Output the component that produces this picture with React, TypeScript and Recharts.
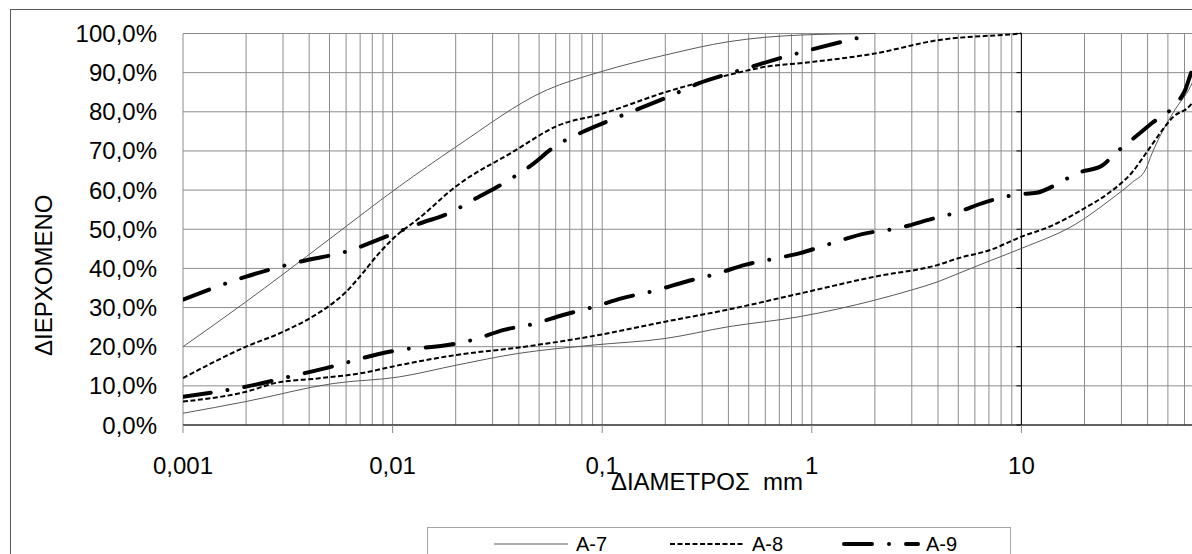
import React from 'react';
import { LineChart, Line, XAxis, YAxis, CartesianGrid, ReferenceLine, Label } from 'recharts';

const FONT = '"Liberation Sans", Arial, Helvetica, sans-serif';

// Grain size distribution curves (percent passing vs. diameter in mm)
const a7FineSize = [0.001, 0.002, 0.003, 0.005, 0.0108, 0.02, 0.054, 0.098, 0.2, 0.4, 0.88, 2];
const a7FinePass = [20, 31.5, 38.5, 47.5, 61, 71, 85.5, 90.2, 94.5, 97.9, 99.6, 100];

const a8FineSize = [0.001, 0.002, 0.003, 0.004, 0.005, 0.006, 0.007, 0.0085, 0.01, 0.0135, 0.02, 0.0376, 0.061, 0.1, 0.2, 0.3, 0.4, 0.6, 0.95, 2, 4, 9, 10];
const a8FinePass = [12, 20, 23.8, 27.2, 30.5, 34, 38, 43.5, 47.5, 53, 60.9, 69.8, 76.4, 79.5, 85, 87.7, 89.4, 91.5, 92.6, 94.9, 98.3, 99.8, 100];

const a9FineSize = [0.001, 0.002, 0.0036, 0.006, 0.0097, 0.0135, 0.0184, 0.025, 0.0337, 0.046, 0.0593, 0.081, 0.11, 0.208, 0.29, 0.4, 0.75, 1.5, 1.9];
const a9FinePass = [32, 37.9, 41.7, 44.3, 48.5, 51.5, 54, 57.9, 61.7, 66.4, 71.1, 74.9, 77.9, 83.9, 87.3, 89.7, 94.1, 98.3, 99.6];

const a7CoarseSize = [0.001, 0.002, 0.0052, 0.0108, 0.0202, 0.04, 0.09, 0.2, 0.4, 0.88, 2, 3, 4, 5, 7.2, 10, 18.4, 26.5, 34, 39, 42, 47, 54, 64, 80];
const a7CoarsePass = [3, 6, 10.6, 12.3, 15.3, 18.3, 20.4, 22.1, 25.1, 27.7, 31.9, 34.5, 36.6, 38.7, 42.1, 45.1, 51.5, 57.5, 62.1, 65.1, 69.4, 74.9, 80.5, 86.4, 100];

const a8CoarseSize = [0.001, 0.002, 0.0028, 0.0044, 0.007, 0.0108, 0.0202, 0.04, 0.09, 0.2, 0.4, 0.88, 2, 4, 5, 7.1, 10, 13.7, 19.9, 26.5, 33.7, 40, 47, 53, 64, 90];
const a8CoarsePass = [6, 8.5, 10.8, 11.9, 13.2, 15.3, 17.9, 19.8, 22.7, 26.4, 29.5, 33.6, 37.9, 40.9, 42.6, 44.7, 48.1, 50.7, 55.3, 59.5, 64.5, 70, 75.3, 78.7, 81.7, 100];

const a9CoarseSize = [0.001, 0.002, 0.0032, 0.0052, 0.0087, 0.0108, 0.017, 0.024, 0.034, 0.047, 0.065, 0.09, 0.125, 0.178, 0.25, 0.35, 0.48, 0.68, 0.88, 1.1, 1.83, 2.55, 3.6, 4.9, 6.8, 9.6, 11.8, 15, 18.4, 24.2, 28, 32.3, 41.7, 55, 60.5, 64, 75];
const a9CoarsePass = [7.2, 9.8, 12.3, 15, 18.2, 19.2, 20.2, 21.7, 24.3, 25.8, 28.1, 30.1, 32.4, 34.3, 36.6, 38.6, 40.9, 42.6, 43.9, 45.5, 49, 50.2, 52.4, 54.3, 57, 58.9, 59.3, 61.7, 64.3, 66.2, 69.4, 72.1, 77, 82.2, 85.6, 89.4, 100];

const seriesNames = ['A-7', 'A-8', 'A-9'];

// Labelled decades (the last decade of the axis carries gridlines only)
const decadeTicks = [0.001, 0.01, 0.1, 1, 10];
const decadeLabels = ['0,001', '0,01', '0,1', '1', '10'];
const minorMultipliers = [1, 2, 3, 4, 5, 6, 7, 8, 9];
const axisMax = 100;
const percentTicks = [0, 10, 20, 30, 40, 50, 60, 70, 80, 90, 100];

const xTitle = 'ΔΙΑΜΕΤΡΟΣ  mm';
const yTitle = 'ΔΙΕΡΧΟΜΕΝΟ';

const gridTicks: number[] = [];
decadeTicks.forEach((d) => {
  minorMultipliers.forEach((m) => gridTicks.push(Number((m * d).toPrecision(3))));
});
gridTicks.push(axisMax);

const toPoints = (sizes: number[], pass: number[]) =>
  sizes.map((s, i) => ({ size: s, pass: pass[i] }));

const GRID = '#8c8c8c';

const styles: Record<string, any> = {
  'A-7': { stroke: '#5a5a5a', strokeWidth: 1 },
  'A-8': { stroke: '#000', strokeWidth: 2, strokeDasharray: '5 2.5' },
  'A-9': { stroke: '#000', strokeWidth: 4, strokeDasharray: '28 17 0.01 17', strokeLinecap: 'round' },
};

const curves = [
  { name: 'A-7', data: toPoints(a7FineSize, a7FinePass) },
  { name: 'A-7', data: toPoints(a7CoarseSize, a7CoarsePass) },
  { name: 'A-8', data: toPoints(a8FineSize, a8FinePass) },
  { name: 'A-8', data: toPoints(a8CoarseSize, a8CoarsePass) },
  { name: 'A-9', data: toPoints(a9FineSize, a9FinePass) },
  { name: 'A-9', data: toPoints(a9CoarseSize, a9CoarsePass) },
];

const XTick = (props: any) => {
  const { x, y, payload } = props;
  const idx = decadeTicks.findIndex((d) => Math.abs(d - payload.value) < d * 1e-6);
  if (idx < 0) return <g />;
  return (
    <g>
      <line x1={x} x2={x} y1={y} y2={y + 8} stroke={GRID} strokeWidth={1} />
      <text x={x} y={y + 49} textAnchor="middle" fontSize={24} fontFamily={FONT} fill="#000">
        {decadeLabels[idx]}
      </text>
    </g>
  );
};

const YTick = (props: any) => {
  const { x, y, payload } = props;
  return (
    <text x={x - 26} y={y + 8.5} textAnchor="end" fontSize={24} fontFamily={FONT} fill="#000">
      {`${payload.value.toFixed(1).replace('.', ',')}%`}
    </text>
  );
};

// Vertical axis line crossing at 10 mm, with short outside tick marks
const CrossAxis = (props: any) => {
  const { x1, y1, x2, y2 } = props;
  const marks = percentTicks.map((p, i) => {
    const yy = y1 + ((y2 - y1) * i) / (percentTicks.length - 1);
    return <line key={p} x1={x1 - 5} x2={x1} y1={yy} y2={yy} stroke="#000" strokeWidth={1} />;
  });
  return (
    <g>
      <line x1={x1} y1={y1} x2={x2} y2={y2} stroke="#000" strokeWidth={1} />
      {marks}
    </g>
  );
};

const XTitle = (props: any) => {
  const { viewBox } = props;
  return (
    <text
      x={viewBox.x + viewBox.width / 2}
      y={viewBox.y + 65}
      textAnchor="middle"
      fontSize={24}
      fontFamily={FONT}
      fill="#000"
      style={{ whiteSpace: 'pre' }}
    >
      {xTitle}
    </text>
  );
};

const YTitle = (props: any) => {
  const { viewBox } = props;
  const cx = viewBox.x + 43;
  const cy = viewBox.y + viewBox.height / 2 + 46;
  return (
    <text
      x={cx}
      y={cy}
      transform={`rotate(-90, ${cx}, ${cy})`}
      textAnchor="middle"
      dominantBaseline="central"
      fontSize={24}
      fontFamily={FONT}
      fill="#000"
    >
      {yTitle}
    </text>
  );
};

const LegendSample = ({ name }: { name: string }) => {
  const s = styles[name];
  return (
    <svg width={78} height={12} style={{ display: 'block' }}>
      <line x1={2} x2={76} y1={6} y2={6} {...s} />
    </svg>
  );
};

const legendItems = [
  { name: seriesNames[0], left: 64 },
  { name: seriesNames[1], left: 240 },
  { name: seriesNames[2], left: 414 },
];

export default function App() {
  return (
    <div style={{ position: 'relative', width: 1192, height: 554, overflow: 'hidden', background: '#fff' }}>
      <style>{'html,body{margin:0;padding:0;overflow:hidden;background:#fff}'}</style>
      <div
        style={{
          position: 'absolute',
          left: 10,
          top: 9,
          width: 1400,
          height: 700,
          border: '1px solid #595959',
          boxSizing: 'border-box',
        }}
      />
      <div style={{ position: 'absolute', left: 0, top: 0 }}>
        <LineChart width={1260} height={560} margin={{ top: 33.5, right: 29, bottom: 55, left: 0 }}>
          <CartesianGrid stroke={GRID} strokeWidth={1} />
          <XAxis
            dataKey="size"
            type="number"
            scale="log"
            domain={[0.001, axisMax]}
            ticks={gridTicks}
            interval={0}
            tick={<XTick />}
            tickLine={false}
            tickSize={0}
            tickMargin={0}
            height={80}
            axisLine={{ stroke: '#000', strokeWidth: 1 }}
            allowDataOverflow
          >
            <Label content={<XTitle />} />
          </XAxis>
          <YAxis
            type="number"
            domain={[0, 100]}
            ticks={percentTicks}
            interval={0}
            tick={<YTick />}
            tickLine={false}
            tickSize={0}
            tickMargin={0}
            axisLine={false}
            width={183}
          >
            <Label content={<YTitle />} />
          </YAxis>
          <ReferenceLine x={10} shape={<CrossAxis />} />
          {curves.map((c, i) => (
            <Line
              key={i}
              data={c.data}
              dataKey="pass"
              name={c.name}
              type="monotone"
              dot={false}
              activeDot={false}
              isAnimationActive={false}
              fill="none"
              {...styles[c.name]}
            />
          ))}
        </LineChart>
      </div>
      <div
        style={{
          position: 'absolute',
          left: 427,
          top: 527,
          width: 584,
          height: 60,
          border: '1px solid #a6a6a6',
          boxSizing: 'border-box',
          background: '#fff',
          fontFamily: FONT,
          fontSize: 20,
        }}
      >
        {legendItems.map((it) => (
          <div key={it.name} style={{ position: 'absolute', left: it.left, top: 6, display: 'flex', alignItems: 'center' }}>
            <LegendSample name={it.name} />
            <span style={{ marginLeft: 6, lineHeight: '20px' }}>{it.name}</span>
          </div>
        ))}
      </div>
    </div>
  );
}
